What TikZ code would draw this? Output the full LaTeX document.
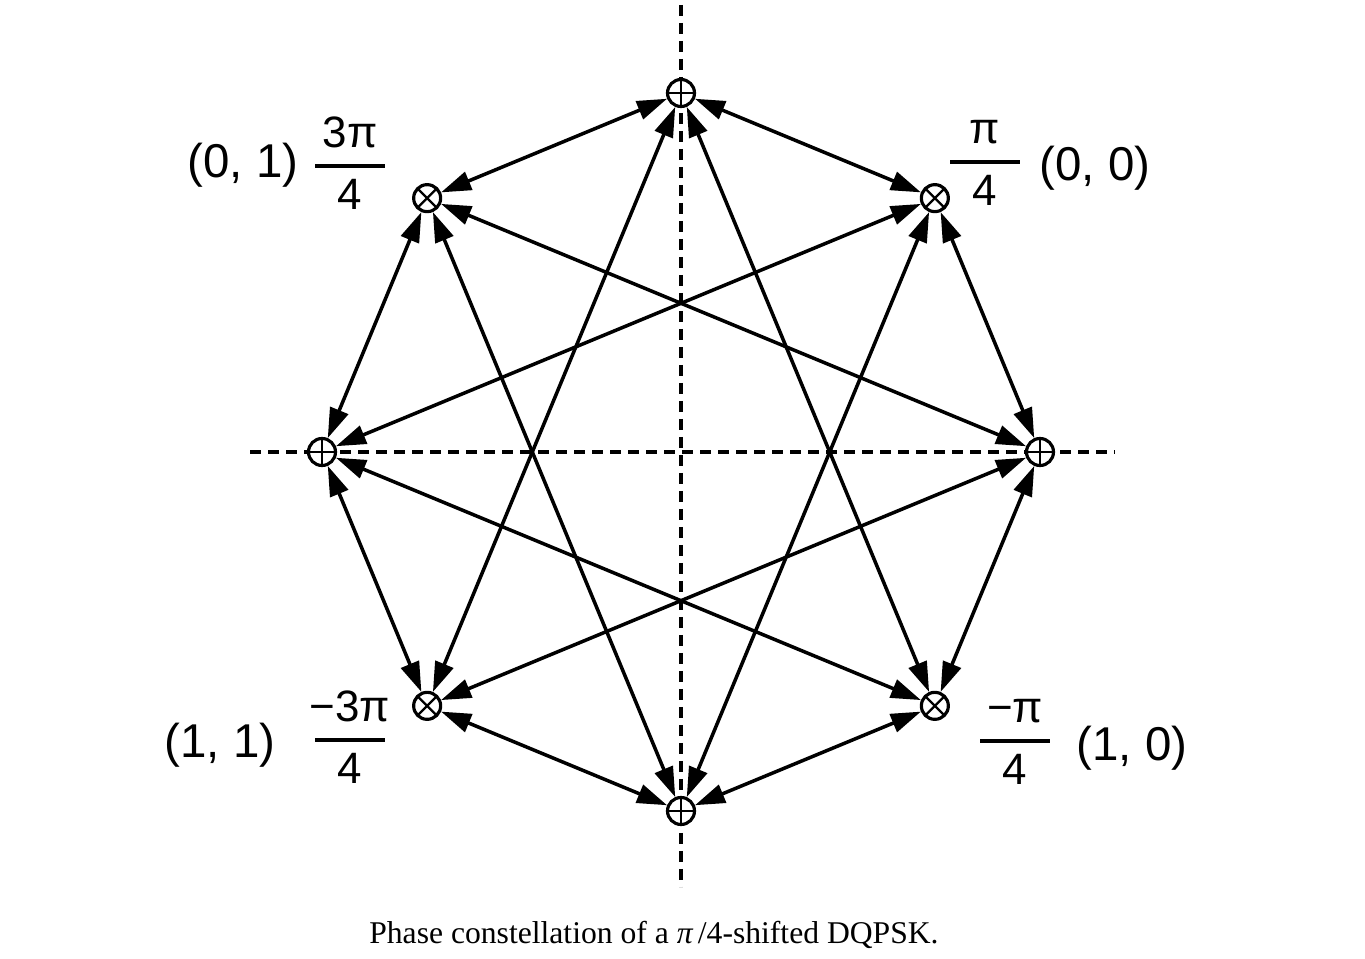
\documentclass[tikz,border=0pt]{standalone}
\usepackage{amsmath}
\usepackage{fontspec}
\setmainfont{Liberation Serif}
\newfontfamily\lblfont{Liberation Sans}
\usetikzlibrary{arrows.meta, positioning, calc}
\newcommand{\frc}[2]{$\genfrac{}{}{2.2pt}{0}{\makebox[1.4cm]{#1}}{\mbox{#2}}$}
\tikzset{
  sym/.style={draw, circle, line width=1.8pt, minimum size=5.4mm, inner sep=0pt, fill=white},
  psym/.style={sym, path picture={\draw[line width=1.3pt] (path picture bounding box.north) -- (path picture bounding box.south) (path picture bounding box.west) -- (path picture bounding box.east);}},
  xsym/.style={sym, path picture={\draw[line width=1.3pt] (path picture bounding box.north west) -- (path picture bounding box.south east) (path picture bounding box.north east) -- (path picture bounding box.south west);}},
  link/.style={{Triangle[length=6mm, width=3.8mm]}-{Triangle[length=6mm, width=3.8mm]}, line width=2pt},
  axisline/.style={dash pattern=on 2.2mm off 1.4mm, line width=1.9pt},
  coordlbl/.style={font=\lblfont\fontsize{27}{30}\selectfont, inner sep=0pt},
  phase/.style={font=\lblfont\fontsize{25}{28}\selectfont, inner sep=0pt},
  capt/.style={font=\fontsize{18}{21}\selectfont}
}

\begin{document}
\begin{tikzpicture}
    \useasboundingbox (0,0) rectangle (27.3,19.16);
    \coordinate (o) at (13.62,10.12);

    % dashed axes
    \coordinate (vtop) at (13.62,19.06);
    \coordinate (vbot) at (13.62,1.42);
    \coordinate (hleft) at (5.0,10.12);
    \coordinate (hright) at (22.3,10.12);
    \draw[axisline] (vtop) -- (vbot);
    \draw[axisline] (hleft) -- (hright);

    % constellation points
    \node[psym] (pN) at ($(o)+(90:7.18)$) {};
    \node[xsym] (qNE) at ($(o)+(45:7.18)$) {};
    \node[psym] (pE) at ($(o)+(0:7.18)$) {};
    \node[xsym] (qSE) at ($(o)+(-45:7.18)$) {};
    \node[psym] (pS) at ($(o)+(-90:7.18)$) {};
    \node[xsym] (qSW) at ($(o)+(-135:7.18)$) {};
    \node[psym] (pW) at ($(o)+(180:7.18)$) {};
    \node[xsym] (qNW) at ($(o)+(135:7.18)$) {};

    \draw[link] (pN) -- (qNW);
    \draw[link] (pN) -- (qNE);
    \draw[link] (pN) -- (qSW);
    \draw[link] (pN) -- (qSE);
    \draw[link] (pE) -- (qNE);
    \draw[link] (pE) -- (qSE);
    \draw[link] (pE) -- (qNW);
    \draw[link] (pE) -- (qSW);
    \draw[link] (pS) -- (qSW);
    \draw[link] (pS) -- (qSE);
    \draw[link] (pS) -- (qNW);
    \draw[link] (pS) -- (qNE);
    \draw[link] (pW) -- (qNW);
    \draw[link] (pW) -- (qSW);
    \draw[link] (pW) -- (qNE);
    \draw[link] (pW) -- (qSE);

    % labels
    \node[phase] (fNW) at (7.0,15.9) {\frc{3π}{4}};
    \node[coordlbl] (cNW) at (4.86,15.86) {(0, 1)};
    \node[phase] (fNE) at (19.7,15.9) {\frc{π}{4}};
    \node[coordlbl] (cNE) at (21.9,15.8) {(0, 0)};
    \node[phase] (fSW) at (7.0,4.42) {\frc{−3π}{4}};
    \node[coordlbl] (cSW) at (4.4,4.26) {(1, 1)};
    \node[phase] (fSE) at (20.3,4.32) {\frc{−π}{4}};
    \node[coordlbl] (cSE) at (22.64,4.2) {(1, 0)};

    \node[capt] (cap) at (13.08,0.46) {Phase constellation of a {\itshape π\,}/4-shifted DQPSK.};
\end{tikzpicture}
\end{document}
